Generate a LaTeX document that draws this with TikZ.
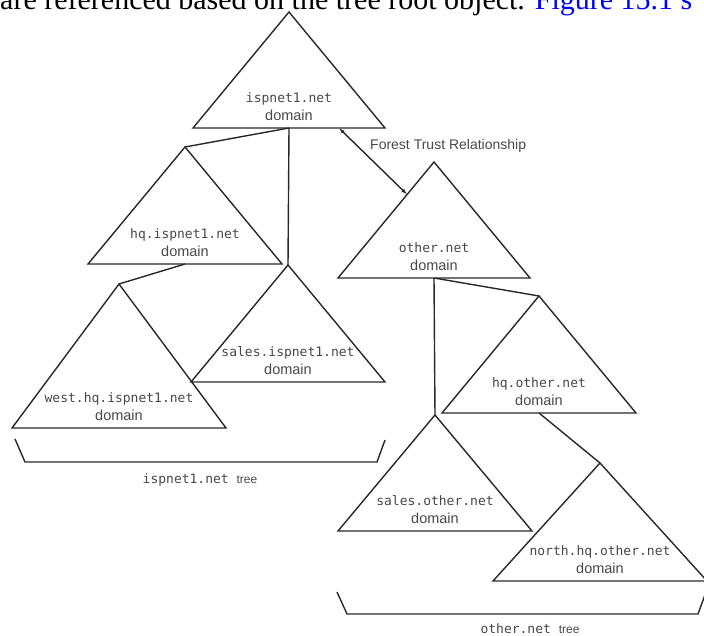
\documentclass[tikz,border=0pt]{standalone}
\usepackage{fontspec}
\setmainfont{Liberation Serif}
\setsansfont{Liberation Sans}
\setmonofont{DejaVu Sans Mono}
\usetikzlibrary{arrows.meta,positioning,calc}
\definecolor{pen}{RGB}{40,40,40}
\definecolor{linkblue}{RGB}{0,0,255}
\tikzset{
  >={Latex[length=6pt,width=4pt]},
  tri/.style={draw=pen,line width=1.4pt,line join=miter},
  link/.style={draw=pen,line width=1.4pt},
  bracket/.style={draw=pen,line width=1.4pt},
  dname/.style={font=\fontsize{13}{15}\selectfont\ttfamily,text=pen!85,inner sep=0pt,anchor=base},
  dword/.style={font=\fontsize{14.5}{16}\selectfont\sffamily,text=pen!85,inner sep=0pt,anchor=base},
  tag/.style={font=\fontsize{14}{16}\selectfont\sffamily,text=pen!85,inner sep=0pt},
  treetag/.style={font=\fontsize{13}{15}\selectfont\ttfamily,text=pen!85,inner sep=0pt,anchor=base},
}

\begin{document}
\begin{tikzpicture}[x=1pt,y=-1pt]
  \useasboundingbox (0,0) rectangle (704,636);
  % page text cut off at the top
  \node[anchor=base west,inner sep=0pt,font=\fontsize{30}{32}\selectfont\rmfamily] (caption) at (0,10)
    {are referenced based on the tree root object. \textcolor{linkblue}{Figure 15.1 s}};

  % domains: name/apex x/apex y/half base/height/label
  \foreach \n/\x/\y/\w/\h/\t in {
    root/289/12/96/116/ispnet1.net,
    hq/185/147/97/117/hq.ispnet1.net,
    sales/288/265/97/117/sales.ispnet1.net,
    west/119/284/107/144/west.hq.ispnet1.net,
    other/434/162/96/116/other.net,
    ohq/539/296/97/117/hq.other.net,
    osales/435/415/97/116/sales.other.net,
    north/600/463/107/118/north.hq.other.net}
  {
    \coordinate (\n-top) at (\x,\y);
    \coordinate (\n-l) at (\x-\w,\y+\h);
    \coordinate (\n-r) at (\x+\w,\y+\h);
    \coordinate (\n-b) at (\x,\y+\h);
    \draw[tri] (\n-top) -- (\n-l) -- (\n-r) -- cycle;
    \node[dname] (\n) at (\x,\y+\h-25.5) {\t};
    \node[dword] (\n-d) at (\x,\y+\h-7.5) {domain};
  }

  \draw[link] (root-b) -- (hq-top);
  \draw[link] (root-b) -- (sales-top);
  \draw[link] (hq-b) -- (west-top);
  \draw[link] (other-b) -- (osales-top);
  \draw[link] (other-b) -- (ohq-top);
  \draw[link] (ohq-b) -- (north-top);

  % trust between the two trees
  \coordinate (ft-a) at ($(root-l)!0.76!(root-r)$);
  \coordinate (ft-b) at ($(other-top)!0.28!(other-l)$);
  \draw[link,<->] (ft-a) -- (ft-b);
  \node[tag,anchor=base west] (ftr) at (370,150) {Forest Trust Relationship};

  % tree brackets
  \draw[bracket] (15,439) -- (25,462) -- (377,462) -- (385,440);
  \node[treetag] (tree1) at (200,483) {ispnet1.net {\sffamily\fontsize{12}{14}\selectfont tree}};
  \draw[bracket] (337,592) -- (347,614) -- (698,614) -- (706,592);
  \node[treetag] (tree2) at (530,633) {other.net {\sffamily\fontsize{12}{14}\selectfont tree}};
\end{tikzpicture}
\end{document}
